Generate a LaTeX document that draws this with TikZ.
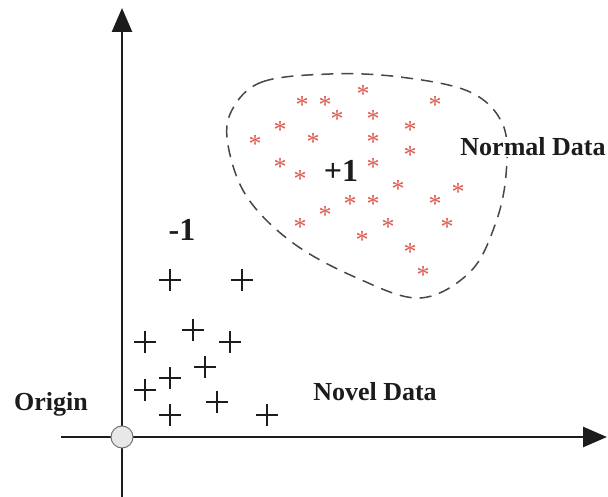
\documentclass[tikz,border=0pt]{standalone}
\usepackage{fontspec}
\setmainfont{Liberation Serif}
\usetikzlibrary{arrows.meta}
\definecolor{ink}{HTML}{1C1C1C}
\definecolor{starred}{HTML}{DC5A4E}
\definecolor{blob}{HTML}{474747}
\begin{document}
\begin{tikzpicture}[x=1pt,y=-1pt,
  axis/.style={line width=2.6pt, draw=ink, -{Triangle[length=24pt,width=20pt]}},
  lbl/.style={font=\bfseries\fontsize{26}{28}\selectfont, text=ink, inner sep=1pt},
  big/.style={font=\bfseries\fontsize{32}{34}\selectfont, text=ink, inner sep=0pt},
  % small box around the asterisk glyph, so the node centre is the glyph centre
  ast/.style={font=\fontsize{26}{26}\selectfont, text=starred, inner sep=0pt,
    text height=20.3pt, text depth=-12.2pt},
  plusmark/.style={line width=1.9pt, draw=ink},
  region/.style={draw=blob, line width=1.5pt, dash pattern=on 12pt off 8pt}
]
\useasboundingbox (0,0) rectangle (608,497);

% axes
\coordinate (xs) at (61,437);
\coordinate (xe) at (607,437);
\coordinate (ys) at (122,497);
\coordinate (ye) at (122,8);
\draw[axis] (xs) -- (xe);
\draw[axis] (ys) -- (ye);
\node[circle, minimum size=22pt, inner sep=0pt, fill=black!9, draw=black!55, line width=1pt] (o) at (122,437) {};

% boundary of the normal class
\draw[region] plot[smooth cycle, tension=0.6] coordinates {
  (232,110) (262,82) (330,74) (400,77) (470,92) (503,125) (506,175)
  (495,225) (470,272) (420,298) (357,278) (293,243) (247,197) (228,145)};

% normal samples
\foreach \x/\y [count=\i] in {
  363/92, 302/103, 325/103, 337/117, 435/103, 373/117, 280/128, 410/128,
  255/142, 313/140, 373/140, 410/153, 280/165, 300/177, 373/165, 398/187,
  458/190, 350/202, 373/202, 435/202, 325/213, 300/225, 388/225, 447/225,
  362/238, 410/250, 423/273}
  \node[ast] (s\i) at (\x,\y) {*};

% novel samples
\foreach \x/\y in {
  170/280, 242/280, 193/330, 145/342, 230/342, 205/367, 170/378, 145/390,
  217/402, 170/415, 267/415}
  \draw[plusmark] (\x-11,\y) -- (\x+11,\y) (\x,\y-11) -- (\x,\y+11);

% labels
\node[big] (pos) at (341,171) {+1};
\node[big] (neg) at (182,230) {-1};
\node[lbl, fill=white] (normal) at (533,147) {Normal Data};
\node[lbl] (novel) at (375,392) {Novel Data};
\node[lbl] (orig) at (51,404) {Origin};
\end{tikzpicture}
\end{document}
